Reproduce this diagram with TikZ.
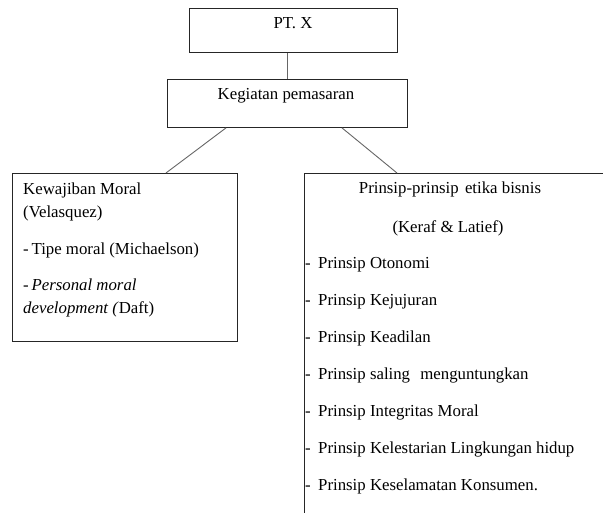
\documentclass[tikz,border=0pt]{standalone}
\usepackage{fontspec}
\setmainfont{Liberation Serif}
\usetikzlibrary{calc}
\begin{document}
\begin{tikzpicture}[x=1pt,y=-1pt,
  box/.style={draw=black!85,line width=0.9pt,inner sep=0pt,anchor=north west},
  conn/.style={draw=black!60,line width=0.9pt},
  txt/.style={inner sep=0pt,anchor=base west,font=\fontsize{16.8}{20}\selectfont},
  ctxt/.style={inner sep=0pt,anchor=base,font=\fontsize{16.8}{20}\selectfont}]
\useasboundingbox (0,0) rectangle (603,513);
% boxes
\node[box,minimum width=208pt,minimum height=44pt] (ptx) at (189,8) {};
\node[box,minimum width=240pt,minimum height=48pt] (kg) at (167,79) {};
\node[box,minimum width=225pt,minimum height=168pt] (lb) at (12,173) {};
\coordinate (rbbl) at (304,513);
\coordinate (rbtl) at (304,173);
\coordinate (rbtr) at (603,173);
\draw[black!85,line width=0.9pt] (rbbl) -- (rbtl) -- (rbtr);
% connectors
\draw[conn] (kg.north |- ptx.south) -- (kg.north);
\coordinate (kgl) at ($(kg.south west)+(59,0)$);
\coordinate (kgr) at ($(kg.south west)+(175,0)$);
\coordinate (lbt) at ($(lb.north west)+(154,0)$);
\coordinate (rbt) at ($(rbtl)+(93,0)$);
\draw[conn] (kgl) -- (lbt);
\draw[conn] (kgr) -- (rbt);
% texts
\node[ctxt] (tptx) at (293,29) {PT. X};
\node[ctxt] (tkg) at (286,100) {Kegiatan pemasaran};
\node[txt] (l1) at (23,195) {Kewajiban Moral};
\node[txt] (l2) at (23,218) {(Velasquez)};
\node[txt] (l3) at (23,255) {-\,Tipe moral (Michaelson)};
\node[txt] (l4) at (23,291) {\itshape -\,Personal moral};
\node[txt] (l5) at (23,314) {\textit{development (}Daft)};
\node[ctxt] (r1) at (450,194) {Prinsip-prinsip\hspace{2pt} etika bisnis};
\node[ctxt] (r2) at (448,233) {(Keraf \& Latief)};
\foreach \n/\y/\t in {a/269/{Otonomi},b/306/{Kejujuran},c/342/{Keadilan},
  d/380/{saling\hspace{6pt} menguntungkan},e/417/{Integritas Moral},
  f/453/{Kelestarian Lingkungan hidup},g/490/{Keselamatan Konsumen.}}{
  \node[txt] (d\n) at (305,\y) {-};
  \node[txt] (i\n) at (318,\y) {Prinsip \t};
}
\end{tikzpicture}
\end{document}
